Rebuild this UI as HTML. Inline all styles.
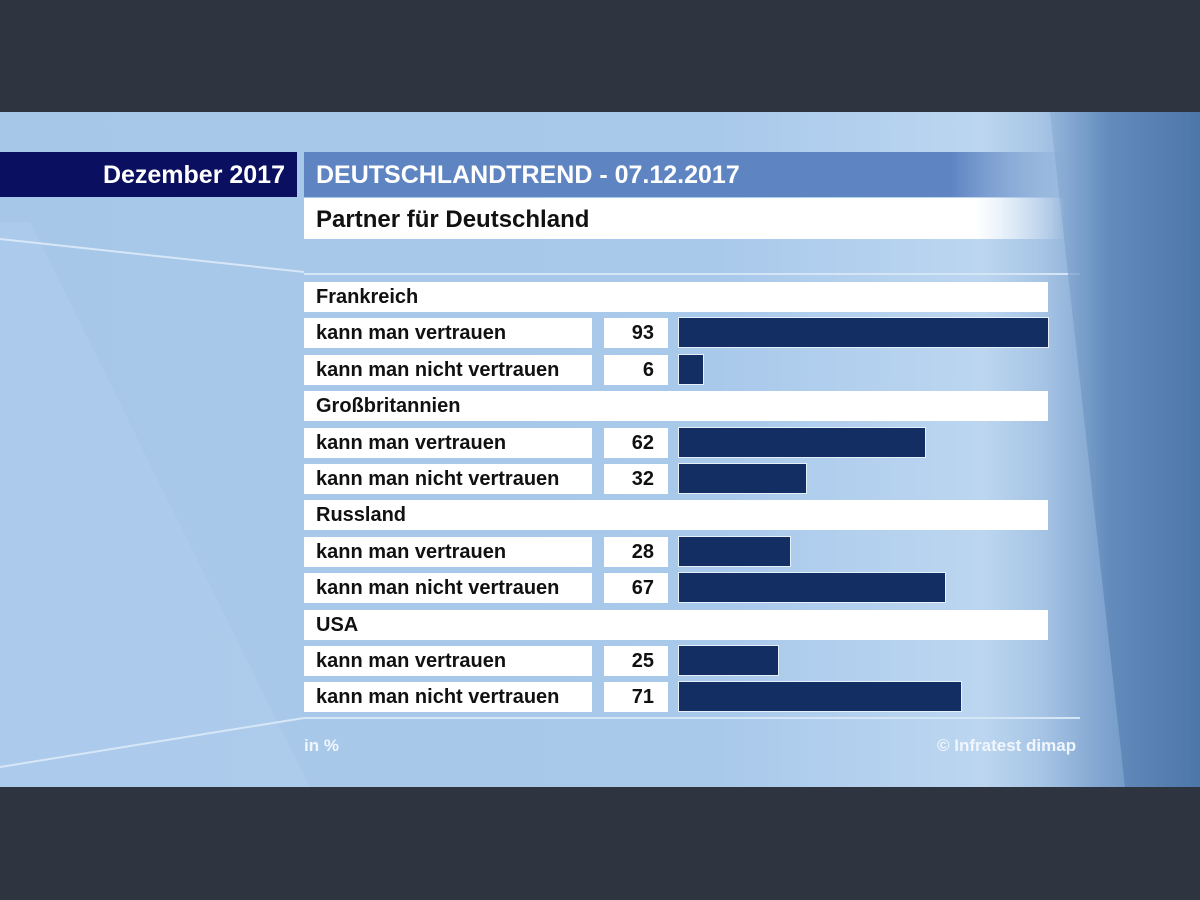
<!DOCTYPE html>
<html><head><meta charset="utf-8">
<style>
body{margin:0;width:1200px;height:900px;background:#2e3540;overflow:hidden;font-family:"Liberation Sans",sans-serif;}
#stage{position:absolute;left:0;top:112px;width:1200px;height:675px;overflow:hidden;
background:linear-gradient(90deg,#a7c7e9 0%,#a9c9eb 60%,#bcd6f0 82%,#a5c3e4 87%,#7fa4cf 92%,#557fb0 100%);}
.abs{position:absolute;}
.txt{font-weight:bold;color:#111;font-size:20px;white-space:nowrap;}
</style></head><body>
<div id="stage">
<svg class="abs" style="left:0;top:0" width="1200" height="675">
<defs><linearGradient id="rg" x1="0" x2="1" y1="0" y2="0"><stop offset="0" stop-color="#8fb1d8"/><stop offset="0.4" stop-color="#5a84b6"/><stop offset="1" stop-color="#4a74a6"/></linearGradient></defs>
<polygon points="0,110 0,675 310,675 30,110" fill="#b3d0ee" opacity="0.4"/>
<line x1="0" y1="127" x2="304" y2="160" stroke="#d7e7f7" stroke-width="2"/>
<line x1="0" y1="655" x2="304" y2="606" stroke="#d7e7f7" stroke-width="2"/>
<line x1="304" y1="162" x2="1080" y2="162" stroke="#d4e5f6" stroke-width="2"/>
<line x1="304" y1="606" x2="1080" y2="606" stroke="#d4e5f6" stroke-width="2"/>
<polygon points="1050,0 1125,675 1200,675 1200,0" fill="url(#rg)" opacity="0.75"/>
</svg>
<div class="abs" style="left:0;top:40px;width:297px;height:45px;background:#0b0f5f;">
<div class="abs" style="right:12px;top:9px;color:#fff;font-weight:bold;font-size:25px;">Dezember 2017</div></div>
<div class="abs" style="left:304px;top:40px;width:760px;height:45px;background:linear-gradient(90deg,#5e84c2 0%,#5e84c2 85%,rgba(94,132,194,0) 100%);">
<div class="abs" style="left:12px;top:9px;color:#fff;font-weight:bold;font-size:25px;">DEUTSCHLANDTREND - 07.12.2017</div></div>
<div class="abs" style="left:304px;top:86px;width:762px;height:41px;background:linear-gradient(90deg,#fff 0%,#fff 88%,rgba(255,255,255,0) 100%);">
<div class="abs txt" style="left:12px;top:8px;font-size:24px;">Partner für Deutschland</div></div>
<div id="rows"></div>
<div class="abs" style="left:304px;top:624px;color:#f0f6fc;font-weight:bold;font-size:17px;">in %</div>
<div class="abs" style="left:937px;top:624px;color:#f0f6fc;font-weight:bold;font-size:17px;">© Infratest dimap</div>
</div>
<script>
const groups=["Frankreich","Großbritannien","Russland","USA"];
const trustValues=[93,62,28,25];
const distrustValues=[6,32,67,71];
const rowLabels=["kann man vertrauen","kann man nicht vertrauen"];
const rowsEl=document.getElementById('rows');
const pitch=36.4, top0=170, barX=679, scale=369/93;
function xLen(v){return v*scale;}
function box(l,t,w,h,bg,name){const d=document.createElement('div');d.className='abs';
d.style.cssText=`left:${l}px;top:${t}px;width:${w}px;height:${h}px;background:${bg};`;


rowsEl.appendChild(d);return d;}
function text(parent,s,left,right,name){const t=document.createElement('div');t.className='abs txt';
t.style.top='4px';if(left!=null)t.style.left=left+'px';if(right!=null)t.style.right=right+'px';t.textContent=s;


parent.appendChild(t);}
groups.forEach((g,gi)=>{
  const base=top0+gi*3*pitch;
  const h=box(304,base,744,30,'#fff','group-header');
  text(h,g,12,null,'group-label');
  [trustValues[gi],distrustValues[gi]].forEach((v,ri)=>{
    const y=base+(ri+1)*pitch;
    const lb=box(304,y,288,30,'#fff','row-label-box');
    text(lb,rowLabels[ri],12,null,'row-label');
    const vb=box(604,y,64,30,'#fff','value-box');
    text(vb,String(v),null,14,'value-label');
    const b=box(barX,y,xLen(v),29,'#132e63','bar');
    b.style.outline='1.5px solid #e6f0fa';
  });
});
</script>
</body></html>
